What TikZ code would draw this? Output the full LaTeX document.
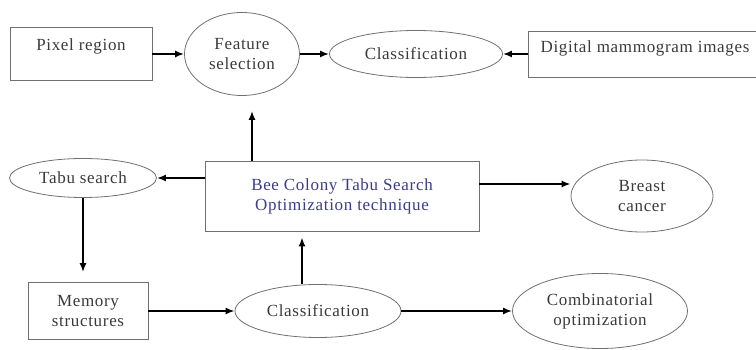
\documentclass[tikz,border=0pt]{standalone}
\usepackage{fontspec}
\setmainfont{LiberationSerif}[Extension=.ttf, UprightFont=*-Regular, LetterSpace=4.0]
\usetikzlibrary{shapes.geometric,arrows.meta}
\definecolor{linegray}{HTML}{707070}
\definecolor{textgray}{HTML}{3A3A3A}
\definecolor{navytext}{HTML}{3C3C8C}
\begin{document}
\begin{tikzpicture}[
        x=1pt, y=-1pt,
        >={Latex[length=9pt,width=7pt]},
        box/.style={draw=linegray, line width=0.8pt, rectangle, inner sep=0pt,
            align=center, text=textgray, font=\fontsize{17}{20}\selectfont},
        blob/.style={draw=linegray, line width=0.8pt, ellipse, inner sep=0pt,
            align=center, text=textgray, font=\fontsize{17}{20}\selectfont},
        link/.style={->, line width=1.7pt, black}
        ]
        \useasboundingbox (0,0) rectangle (756,350);

        % top row
        \node (pixel) [box, minimum width=142pt, minimum height=53pt, text depth=18pt] at (81,54) {Pixel region};
        \node (feature) [blob, minimum width=115pt, minimum height=83pt, right of=pixel, node distance=161pt] {Feature\\selection};
        \node (classtop) [blob, minimum width=173pt, minimum height=47pt, right of=feature, node distance=174pt] {Classification};
        \node (mammo) [box, minimum width=234pt, minimum height=46pt, text depth=14pt, right of=classtop, node distance=229pt] {Digital mammogram images};

        % middle row
        \node (bcts) [box, minimum width=274pt, minimum height=70pt, text=navytext] at (342,196) {Bee Colony Tabu Search\\Optimization technique};
        \node (tabu) [blob, minimum width=147pt, minimum height=39pt, left of=bcts, node distance=259pt, yshift=18pt] {Tabu search};
        \node (breast) [blob, minimum width=142pt, minimum height=72pt, right of=bcts, node distance=300pt] {Breast\\cancer};

        % bottom row
        \node (memory) [box, minimum width=120pt, minimum height=57pt] at (88,311) {Memory\\structures};
        \node (classbot) [blob, minimum width=166pt, minimum height=53pt, right of=memory, node distance=230pt] {Classification};
        \node (combi) [blob, minimum width=175pt, minimum height=75pt, right of=classbot, node distance=282pt] {Combinatorial\\optimization};

        % flow into the top row
        \path[link]
        (pixel)     edge    (feature)
        (feature)   edge    (classtop)
        (mammo)     edge    (classtop)
        ;

        % flow out of the search technique
        \draw[link, shorten >=15pt] ([xshift=-90pt]bcts.north) -- ([xshift=10pt]feature.south);
        \draw[link] (bcts.west |- tabu.east) -- (tabu.east);
        \draw[link] ([yshift=12pt]bcts.east) -- ([yshift=12pt]breast.west);

        % tabu search loop back into the technique
        \draw[link, shorten >=10pt] (tabu.south) -- (tabu.south |- memory.north);
        \path[link]
        (memory)    edge    (classbot)
        (classbot)  edge    (combi)
        ;
        \draw[link, shorten >=6pt] ([xshift=-16pt]classbot.north) -- ([xshift=-40pt]bcts.south);
    \end{tikzpicture}
\end{document}
